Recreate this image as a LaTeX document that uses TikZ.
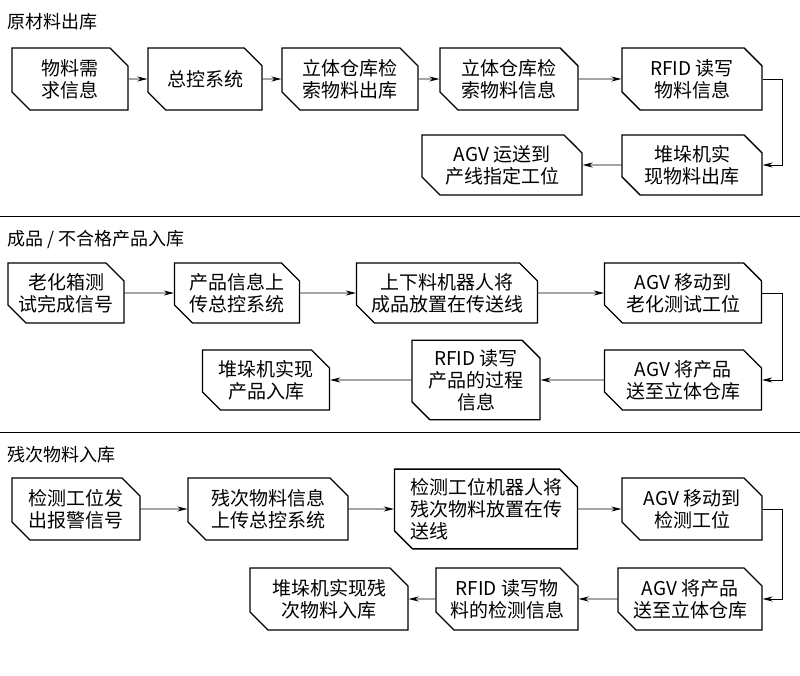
\documentclass[tikz,border=0pt]{standalone}
\usepackage{fontspec}
\setmainfont{Noto Sans CJK SC}
\usetikzlibrary{shapes.misc,arrows.meta}
\begin{document}
\begin{tikzpicture}[x=1pt,y=-1pt,
 box/.style={chamfered rectangle,chamfered rectangle corners={north east,south west},chamfered rectangle xsep=9pt,chamfered rectangle ysep=9pt,draw,line width=1.4pt,inner sep=0pt,align=center,font=\fontsize{19}{22}\selectfont},
 ar/.style={-{Stealth[length=10pt,width=5pt]},line width=0.8pt},
 hd/.style={anchor=west,font=\fontsize{18}{20}\selectfont}]
\useasboundingbox (0,0) rectangle (800,676);
\newcommand\bx[6]{\node[box,minimum width=#4,minimum height=#5] (#1) at (#2,#3) {#6};}
\node[hd] (h1) at (4,22) {原材料出库};
\bx{a1}{70}{79}{116}{62}{物料需\\求信息}
\bx{a2}{205}{79}{114}{62}{总控系统}
\bx{a3}{350}{79}{136}{62}{立体仓库检\\索物料出库}
\bx{a4}{509}{79}{138}{62}{立体仓库检\\索物料信息}
\bx{a5}{692}{79}{140}{62}{RFID 读写\\物料信息}
\bx{a6}{692}{165}{140}{60}{堆垛机实\\现物料出库}
\bx{a7}{502}{165}{160}{60}{AGV 运送到\\产线指定工位}
\draw[ar] (a1)--(a2); \draw[ar] (a2)--(a3); \draw[ar] (a3)--(a4); \draw[ar] (a4)--(a5);
\draw[ar] (a5.east)--++(20,0)|-(a6.east); \draw[ar] (a6)--(a7);
\draw[line width=0.8pt] (0,216)--(800,216);
\node[hd] (h2) at (4,240) {成品 / 不合格产品入库};
\bx{b1}{66}{293}{116}{60}{老化箱测\\试完成信号}
\bx{b2}{237}{293}{125}{60}{产品信息上\\传总控系统}
\bx{b3}{447}{293}{181}{60}{上下料机器人将\\成品放置在传送线}
\bx{b4}{683}{293}{157}{60}{AGV 移动到\\老化测试工位}
\bx{b5}{683}{380}{157}{60}{AGV 将产品\\送至立体仓库}
\bx{b6}{476}{380}{128}{60}{RFID 读写\\产品的过程\\信息}
\bx{b7}{266}{380}{127}{60}{堆垛机实现\\产品入库}
\draw[ar] (b1)--(b2); \draw[ar] (b2)--(b3); \draw[ar] (b3)--(b4);
\draw[ar] (b4.east)--++(20,0)|-(b5.east); \draw[ar] (b5)--(b6); \draw[ar] (b6)--(b7);
\draw[line width=0.8pt] (0,432)--(800,432);
\node[hd] (h3) at (4,455) {残次物料入库};
\bx{c1}{76}{509}{128}{62}{检测工位发\\出报警信号}
\bx{c2}{268}{509}{160}{62}{残次物料信息\\上传总控系统}
\node[box,align=left,minimum width=183,minimum height=62] (c3) at (486,509) {检测工位机器人将\\残次物料放置在传\\送线};
\bx{c4}{692}{509}{140}{62}{AGV 移动到\\检测工位}
\bx{c5}{690}{599}{144}{62}{AGV 将产品\\送至立体仓库}
\bx{c6}{507}{599}{142}{62}{RFID 读写物\\料的检测信息}
\bx{c7}{329}{599}{158}{62}{堆垛机实现残\\次物料入库}
\draw[ar] (c1)--(c2); \draw[ar] (c2)--(c3); \draw[ar] (c3)--(c4);
\draw[ar] (c4.east)--++(20,0)|-(c5.east); \draw[ar] (c5)--(c6); \draw[ar] (c6)--(c7);
\end{tikzpicture}
\end{document}
